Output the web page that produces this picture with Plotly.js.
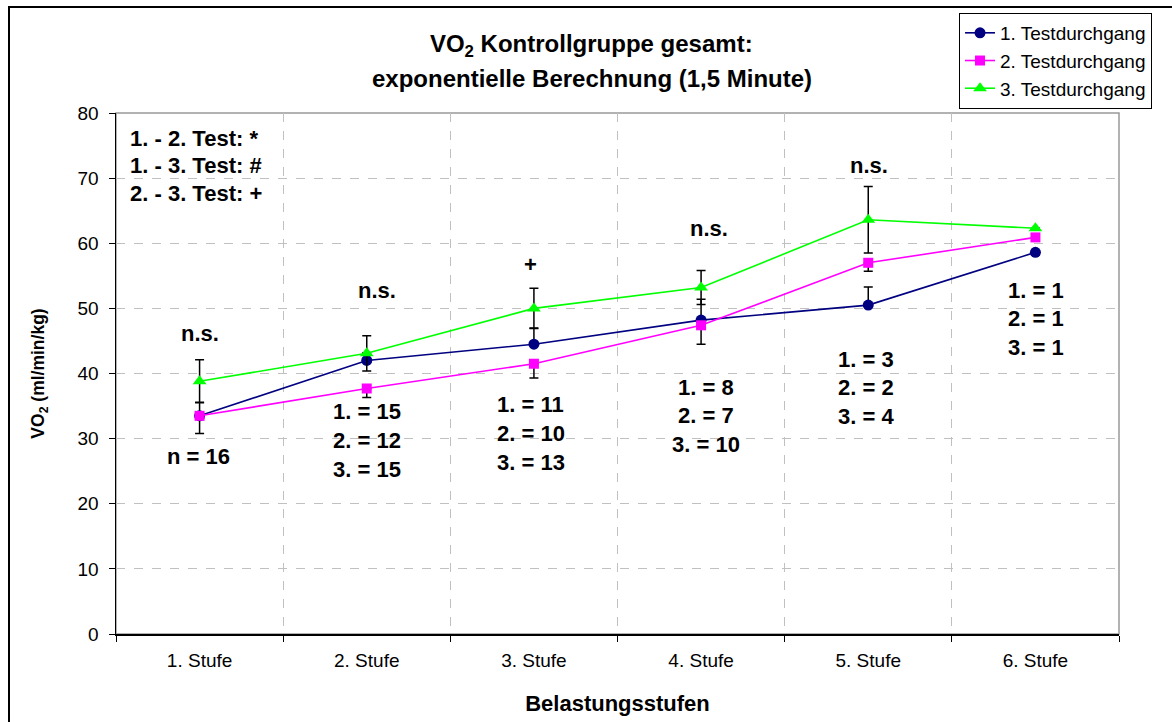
<!DOCTYPE html>
<html><head><meta charset="utf-8">
<script src="https://cdn.plot.ly/plotly-3.0.1.min.js"></script>
<style>
html,body{margin:0;padding:0;background:#fff;overflow:hidden}
#chart{position:absolute;left:0;top:0;width:1172px;height:722px}
#frame{position:absolute;left:8px;top:6px;width:1300px;height:900px;border-left:2px solid #000;border-top:2px solid #000;pointer-events:none}
</style></head><body>
<div id="chart"></div><div id="frame"></div>
<script>
// ---- data ----
const stages = ["1. Stufe", "2. Stufe", "3. Stufe", "4. Stufe", "5. Stufe", "6. Stufe"];
const test1 = [33.5, 42.0, 44.5, 48.2, 50.5, 58.6];
const test1ErrPlus = [2.1, 1.2, 2.5, 3.2, 2.8, 0];
const test2 = [33.5, 37.7, 41.5, 47.4, 57.0, 60.9];
const test2ErrMinus = [2.7, 1.4, 2.2, 2.9, 1.3, 0];
const test3 = [38.8, 43.1, 50.0, 53.2, 63.6, 62.3];
const test3Err = [3.3, 2.7, 3.1, 2.6, 5.1, 0];
const seriesNames = ["1. Testdurchgang", "2. Testdurchgang", "3. Testdurchgang"];
const yTicks = [0, 10, 20, 30, 40, 50, 60, 70, 80];
const significance = ["n.s.", "n.s.", "+", "n.s.", "n.s.", ""];
const sampleLabels = [
  ["n = 16"],
  ["1. = 15", "2. = 12", "3. = 15"],
  ["1. = 11", "2. = 10", "3. = 13"],
  ["1. = 8", "2. = 7", "3. = 10"],
  ["1. = 3", "2. = 2", "3. = 4"],
  ["1. = 1", "2. = 1", "3. = 1"]
];
const keyLines = ["1. - 2. Test: *", "1. - 3. Test: #", "2. - 3. Test: +"];

// ---- layout helpers (positions only) ----
const sigY = [46.2, 52.7, 56.7, 62.2, 72.0, null];
const sigShift = [0, 10, -3, 8, 1, 0];
const sampleTopY = [27.3, 34.1, 35.2, 37.9, 42.2, 52.8];
const sampleShift = [-1, 0, -3, 5, -2, 1];
const sampleStep = 4.4;
const FONT = "Liberation Sans, Arial, sans-serif";

const errStyle = {color: "#000", thickness: 1.5, width: 4.5};
const traces = [
  {x: stages, y: test1, name: seriesNames[0], type: "scatter", mode: "lines+markers",
   line: {color: "#000080", width: 1.6},
   marker: {symbol: "circle", size: 11, color: "#000080"},
   error_y: Object.assign({type: "data", symmetric: false, array: test1ErrPlus,
     arrayminus: test1ErrPlus.map(() => 0)}, errStyle)},
  {x: stages, y: test2, name: seriesNames[1], type: "scatter", mode: "lines+markers",
   line: {color: "#FF00FF", width: 1.6},
   marker: {symbol: "square", size: 10, color: "#FF00FF"},
   error_y: Object.assign({type: "data", symmetric: false, array: test2ErrMinus.map(() => 0),
     arrayminus: test2ErrMinus}, errStyle)},
  {x: stages, y: test3, name: seriesNames[2], type: "scatter", mode: "lines+markers",
   line: {color: "#00FF00", width: 1.6},
   marker: {symbol: "triangle-up", size: 12, color: "#00FF00"},
   error_y: Object.assign({type: "data", symmetric: true, array: test3Err}, errStyle)}
];

const annotations = [];
const annFont = {family: FONT, size: 22, color: "#000"};
stages.forEach((s, i) => {
  if (significance[i]) {
    annotations.push({x: s, y: sigY[i], xref: "x", yref: "y", yanchor: "middle",
      xshift: sigShift[i], text: "<b>" + significance[i] + "</b>",
      showarrow: false, font: annFont});
  }
  sampleLabels[i].forEach((t, k) => {
    annotations.push({x: s, y: sampleTopY[i] - k * sampleStep, xref: "x", yref: "y",
      yanchor: "middle", xshift: sampleShift[i],
      text: "<b>" + t + "</b>", showarrow: false, font: annFont});
  });
});
keyLines.forEach((t, k) => {
  annotations.push({x: 0.012, y: 0.952 - k * 0.053, xref: "paper", yref: "paper",
    xanchor: "left", yanchor: "middle",
    text: "<b>" + t + "</b>", showarrow: false, font: annFont});
});
annotations.push({x: 0.4746, y: 1.067, xref: "paper", yref: "paper", xanchor: "center",
  yanchor: "middle",
  text: "<b>exponentielle Berechnung (1,5 Minute)</b>", showarrow: false,
  font: {family: FONT, size: 24, color: "#000"}});

const layout = {
  width: 1172, height: 722,
  margin: {l: 116, r: 53, t: 113, b: 88},
  paper_bgcolor: "#fff", plot_bgcolor: "#fff",
  font: {family: FONT, color: "#000"},
  title: {text: "<b>VO<sub>2</sub> Kontrollgruppe gesamt:</b>", x: 0.5045, xanchor: "center",
    y: 0.94, yanchor: "middle", font: {family: FONT, size: 24, color: "#000"}},
  showlegend: true,
  legend: {x: 0.8405, y: 1.192, xanchor: "left", yanchor: "top",
    bordercolor: "#000", borderwidth: 1, bgcolor: "#fff",
    font: {family: FONT, size: 19, color: "#000"}, tracegroupgap: 0, itemwidth: 30},
  xaxis: {type: "category", range: [-0.5, 5.5], tickson: "boundaries",
    ticks: "outside", ticklen: 6, tickcolor: "#000", tickwidth: 1,
    showline: true, linecolor: "#000", linewidth: 1.5,
    showgrid: true, gridcolor: "#c0c0c0", griddash: "dash", gridwidth: 1,
    tickfont: {family: FONT, size: 19, color: "#000"}, ticklabelstandoff: 9,
    title: {text: "<b>Belastungsstufen</b>", font: {family: FONT, size: 22, color: "#000"}, standoff: 25},
    fixedrange: true, automargin: false},
  yaxis: {range: [0, 80], tickvals: yTicks, ticktext: yTicks.map(String),
    ticks: "outside", ticklen: 6, tickcolor: "#000", tickwidth: 1,
    showline: true, linecolor: "#000", linewidth: 1.5, zeroline: false,
    showgrid: true, gridcolor: "#c0c0c0", griddash: "dash", gridwidth: 1,
    tickfont: {family: FONT, size: 19, color: "#000"}, ticklabelstandoff: 6,
    title: {text: "<b>VO<sub>2</sub> (ml/min/kg)</b>", font: {family: FONT, size: 17.5, color: "#000"}, standoff: 28},
    fixedrange: true, automargin: false},
  shapes: [{type: "rect", xref: "paper", yref: "paper", x0: 0, x1: 1, y0: 0, y1: 1,
    line: {color: "#999", width: 1.5}, layer: "below"}],
  annotations: annotations
};

Plotly.newPlot("chart", traces, layout, {displayModeBar: false, staticPlot: true});
</script>
</body></html>
